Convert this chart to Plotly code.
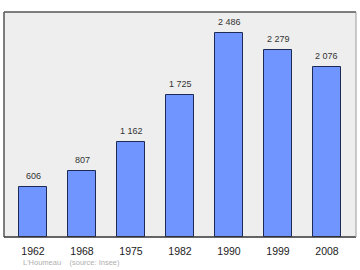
import plotly.graph_objects as go

years = ["1962", "1968", "1975", "1982", "1990", "1999", "2008"]
population = [606, 807, 1162, 1725, 2486, 2279, 2076]
labels = ["606", "807", "1 162", "1 725", "2 486", "2 279", "2 076"]
footer = "L'Houmeau    (source: Insee)"

xs = list(range(len(years)))
W, H = 360, 270
L, R, T, B = 4, 4, 12, 33
FONT = "Liberation Sans, Arial, sans-serif"

fig = go.Figure()
fig.add_trace(go.Bar(
    x=xs, y=population, width=0.57,
    marker=dict(color="#7095ff", line=dict(color="#1c2a55", width=1)),
    hoverinfo="skip",
))
for x, v, t in zip(xs, population, labels):
    fig.add_annotation(x=x, y=v, text=t, showarrow=False, yanchor="bottom",
                       yshift=4, font=dict(family=FONT, size=9, color="#333333"))

fig.add_annotation(xref="paper", yref="paper", x=(21 - L) / (W - L - R), y=-(262 - (H - B)) / (H - T - B),
                   xanchor="left", yanchor="middle", text=footer, showarrow=False,
                   font=dict(family=FONT, size=7.5, color="#b0b0b0"))

# frame
fig.add_shape(type="line", xref="paper", yref="paper", x0=0, x1=0, y0=0, y1=1, line=dict(color="#555555", width=1.5))
fig.add_shape(type="line", xref="paper", yref="paper", x0=0, x1=1, y0=1, y1=1, line=dict(color="#555555", width=1.5))
fig.add_shape(type="line", xref="paper", yref="paper", x0=0, x1=1, y0=0, y1=0, line=dict(color="#333333", width=1.5))
fig.add_shape(type="line", xref="paper", yref="paper", x0=1, x1=1, y0=0, y1=1, line=dict(color="#999999", width=1))

fig.update_layout(
    width=W, height=H, margin=dict(l=L, r=R, t=T, b=B),
    paper_bgcolor="white", plot_bgcolor="#eeeeee",
    showlegend=False, bargap=0,
)
fig.update_xaxes(range=[-0.592, 6.592], tickmode="array", tickvals=xs, ticktext=years,
                 showgrid=False, zeroline=False, ticks="outside", ticklen=4, tickcolor="rgba(0,0,0,0)",
                 tickfont=dict(family=FONT, size=10.5, color="#222222"), fixedrange=True)
fig.update_yaxes(range=[0, 2742], showticklabels=False, showgrid=False, zeroline=False, fixedrange=True)

fig.write_html("out.html")
